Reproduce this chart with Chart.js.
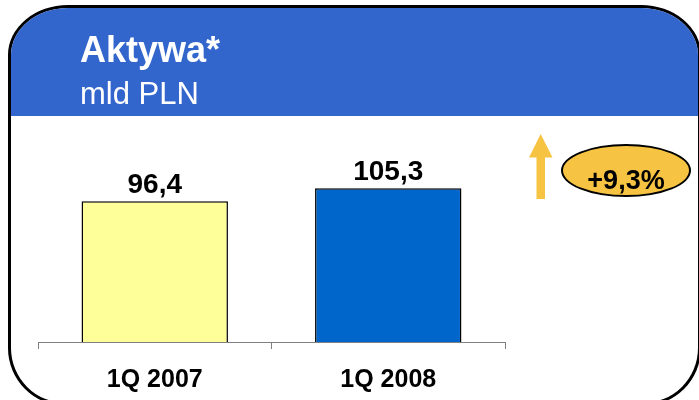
<!DOCTYPE html>
<html><head><meta charset="utf-8">
<script src="https://cdn.jsdelivr.net/npm/chart.js@4/dist/chart.umd.min.js"></script>
<style>
html,body{margin:0;padding:0;width:699px;height:400px;overflow:hidden;background:#fff;font-family:"Liberation Sans",Arial,sans-serif;}
#box{position:absolute;left:8px;top:5px;width:687px;height:395px;border:3px solid #000;border-radius:60px 60px 58px 58px/50px 50px 58px 58px;overflow:hidden;background:#fff;}
#hdr{position:absolute;left:0;top:0;width:100%;height:108px;background:#3366CC;}
.t{position:absolute;color:#fff;line-height:1;white-space:nowrap;z-index:3;}
#title{left:80px;top:32px;font-size:36px;font-weight:bold;}
#unit{left:80px;top:78px;font-size:31px;}
#arrow{position:absolute;left:0;top:0;z-index:3;}
#badge{position:absolute;left:561px;top:144px;width:126px;height:49px;border:2px solid #000;border-radius:50%;background:#F6C342;z-index:3;}
#change{position:absolute;left:561px;width:130px;text-align:center;top:167px;font-size:27px;font-weight:bold;color:#000;line-height:1;z-index:4;}
canvas{position:absolute;left:0;top:0;z-index:2;}
</style></head>
<body>
<div id="box"><div id="hdr"></div></div>
<div class="t" id="title">Aktywa*</div>
<div class="t" id="unit">mld PLN</div>
<svg id="arrow" width="699" height="400"><polygon points="529,157.5 552.5,157.5 540.7,134 " fill="#F6C342"/><rect x="536.5" y="157" width="8.5" height="42" fill="#F6C342"/></svg>
<div id="badge"></div>
<div id="change"></div>
<canvas id="c" width="699" height="400"></canvas>
<script>
const categories = ["1Q 2007", "1Q 2008"];
const values = [96.4, 105.3];
const changeLabel = "+9,3%";
const barColors = ["#FFFF99", "#0066CC"];
const valueLabels = values.map(v => v.toFixed(1).replace('.', ','));

document.getElementById('change').textContent = changeLabel;

const FONT = '"Liberation Sans", Arial, sans-serif';
const labelPlugin = {
  id: 'vlabels',
  afterDatasetsDraw(chart) {
    const ctx = chart.ctx;
    const meta = chart.getDatasetMeta(0);
    ctx.save();
    ctx.font = 'bold 28px ' + FONT;
    ctx.textAlign = 'center';
    ctx.textBaseline = 'alphabetic';
    ctx.fillStyle = '#000';
    meta.data.forEach((b, i) => ctx.fillText(valueLabels[i], b.x, b.y - 8.5));
    ctx.restore();
  }
};

new Chart(document.getElementById('c'), {
  type: 'bar',
  data: {
    labels: categories,
    datasets: [{
      data: values,
      backgroundColor: barColors,
      borderColor: '#000',
      borderWidth: 1.5,
      borderSkipped: 'bottom',
      categoryPercentage: 1,
      barPercentage: 0.627
    }]
  },
  options: {
    responsive: false,
    animation: false,
    devicePixelRatio: 1,
    layout: { padding: { left: 38, right: 194, top: 120, bottom: 0 } },
    plugins: { legend: { display: false }, tooltip: { enabled: false } },
    scales: {
      x: {
        grid: { display: true, drawOnChartArea: false, drawTicks: true, tickLength: 7, color: '#808080', offset: true },
        border: { display: true, color: '#808080', width: 1 },
        ticks: { font: { family: FONT, size: 25, weight: 'bold' }, color: '#000', padding: 16 },
        afterFit: s => { s.height = 58; }
      },
      y: { display: false, min: 0, max: 152 }
    }
  },
  plugins: [labelPlugin]
});
</script>
</body></html>
